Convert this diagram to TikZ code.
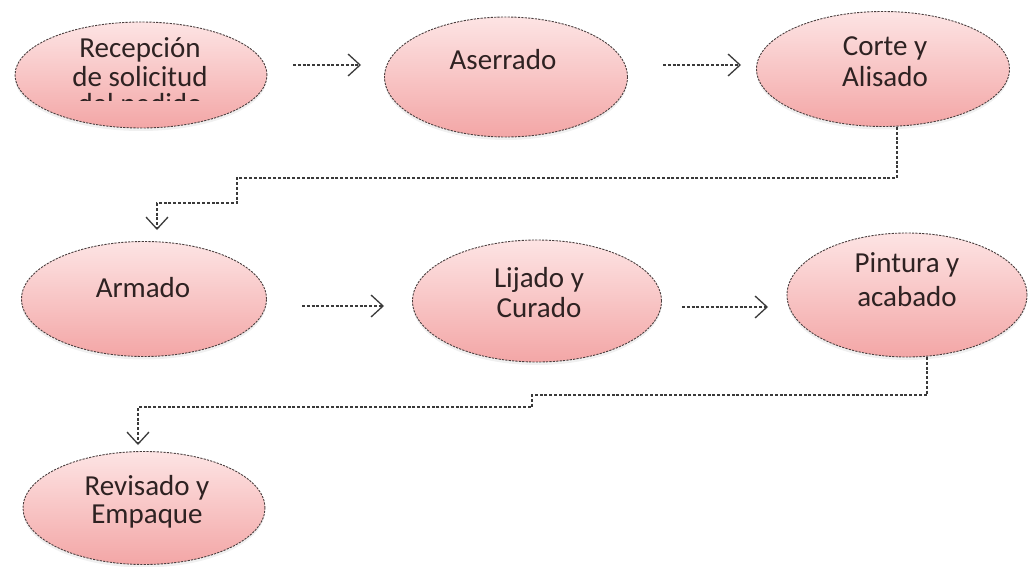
\documentclass[tikz,border=0pt]{standalone}
\usepackage{fontspec}
\setmainfont{Carlito}
\usetikzlibrary{arrows.meta,shapes.geometric,shadows}
\definecolor{txt}{HTML}{2E2222}
\definecolor{pinktop}{HTML}{FDE4E4}
\definecolor{pinkbot}{HTML}{F3A6A6}
\definecolor{edge}{HTML}{4A3E3E}
\definecolor{conn}{HTML}{3A3A3A}
\tikzset{
  proc/.style={ellipse, inner sep=0pt, top color=pinktop, bottom color=pinkbot,
    draw=edge, line width=0.9pt, dash pattern=on 2.2pt off 1.2pt,
    drop shadow={opacity=0.12, shadow xshift=0pt, shadow yshift=-3pt}},
  lbl/.style={text=txt, font=\fontsize{29}{33}\selectfont, inner sep=0pt, anchor=center},
  connector/.style={draw=conn, line width=1.2pt, dash pattern=on 3pt off 1.8pt,
    -{Straight Barb[length=12pt,width=22pt,line width=1.3pt]}},
}
\begin{document}
\begin{tikzpicture}[x=1pt,y=-1pt]
\useasboundingbox (0,0) rectangle (1028,567);
% ellipses
\node[proc, minimum width=252pt, minimum height=106pt] (e1) at (141,75) {};
\node[proc, minimum width=243pt, minimum height=120pt] (e2) at (506,77) {};
\node[proc, minimum width=253pt, minimum height=115pt] (e3) at (883,69) {};
\node[proc, minimum width=245pt, minimum height=115pt] (e4) at (144,299) {};
\node[proc, minimum width=249pt, minimum height=122pt] (e5) at (537,301) {};
\node[proc, minimum width=240pt, minimum height=124pt] (e6) at (907,295) {};
\node[proc, minimum width=242pt, minimum height=113pt] (e7) at (144,508) {};
% labels
\node[lbl] (t1a) at (140,50) {Recepción};
\node[lbl] (t1b) at (140,77) {de solicitud};
\begin{scope}
\clip (40,93) rectangle (240,101);
\node[lbl] (t1c) at (140,106) {del pedido};
\end{scope}
\node[lbl] (t2) at (503,60) {Aserrado};
\node[lbl] (t3a) at (885,48) {Corte y};
\node[lbl] (t3b) at (885,77) {Alisado};
\node[lbl] (t4) at (143,288) {Armado};
\node[lbl] (t5a) at (539,280) {Lijado y};
\node[lbl] (t5b) at (539,308) {Curado};
\node[lbl] (t6a) at (907,265) {Pintura y};
\node[lbl] (t6b) at (907,297) {acabado};
\node[lbl] (t7a) at (147,488) {Revisado y};
\node[lbl] (t7b) at (147,517) {Empaque};
% connector coordinates
\coordinate (a1s) at (293,65); \coordinate (a1e) at (361,65);
\coordinate (a2s) at (663,65); \coordinate (a2e) at (741,65);
\coordinate (a3s) at (302,306); \coordinate (a3e) at (384,306);
\coordinate (a4s) at (682,307); \coordinate (a4e) at (768,307);
\coordinate (b1) at (897,127); \coordinate (b2) at (897,178);
\coordinate (b3) at (237,178); \coordinate (b4) at (237,203);
\coordinate (b5) at (157,203); \coordinate (b6) at (157,230);
\coordinate (c1) at (927,357); \coordinate (c2) at (927,395);
\coordinate (c3) at (532,395); \coordinate (c4) at (532,407);
\coordinate (c5) at (138,407); \coordinate (c6) at (138,445);
% connectors
\draw[connector] (a1s) -- (a1e);
\draw[connector] (a2s) -- (a2e);
\draw[connector] (a3s) -- (a3e);
\draw[connector] (a4s) -- (a4e);
\draw[connector] (b1) -- (b2) -- (b3) -- (b4) -- (b5) -- (b6);
\draw[connector] (c1) -- (c2) -- (c3) -- (c4) -- (c5) -- (c6);
\end{tikzpicture}
\end{document}
